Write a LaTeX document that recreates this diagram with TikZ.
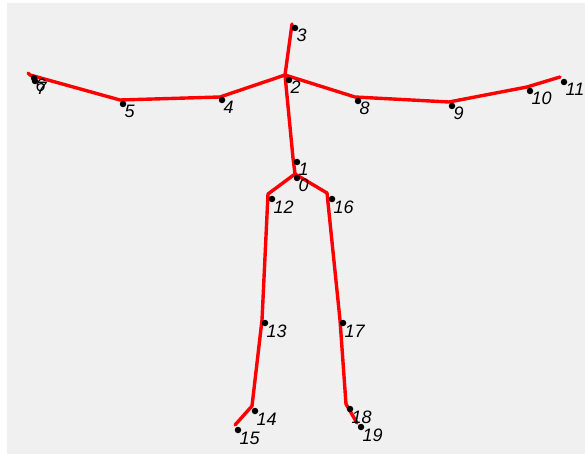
\documentclass[tikz,border=0pt]{standalone}
\usepackage{fontspec}
\setmainfont{Liberation Sans}
\usepackage{tikz}
\definecolor{PlotBg}{HTML}{F0F0F0}
\usetikzlibrary{calc}

\begin{document}
\begin{tikzpicture}[x=1pt,y=-1pt,
    font=\fontsize{18}{18}\selectfont\itshape,
    bone/.style={draw=red,line width=3.4pt,line cap=round,line join=round},
    joint/.style={shape=circle,fill=black,inner sep=0pt,minimum size=6.5pt},
    tag/.style={anchor=base west,inner sep=0pt,text=black}]

    % plot area
    \fill[white] (0,0) rectangle (585,454);
    \fill[PlotBg] (7,3) rectangle (585,454);

    % skeleton vertices
    \coordinate (s0) at (295,174);
    \coordinate (s1) at (293,158);
    \coordinate (s2) at (285,75);
    \coordinate (s3) at (292,24);
    \coordinate (s4) at (220,97);
    \coordinate (s5) at (120,100);
    \coordinate (s6) at (30,75);
    \coordinate (s7) at (28,73);
    \coordinate (s8) at (355,97);
    \coordinate (s9) at (449,102);
    \coordinate (s10) at (527,87);
    \coordinate (s11) at (560,77);
    \coordinate (s12) at (268,194);
    \coordinate (s13) at (262,320);
    \coordinate (s14) at (252,406);
    \coordinate (s15) at (235,425);
    \coordinate (s16) at (327,193);
    \coordinate (s17) at (340,320);
    \coordinate (s18) at (346,404);
    \coordinate (s19) at (357,423);

    % spine and head
    \path[bone] (s3) -- (s2) -- (s1) -- (s0);
    % arms
    \path[bone] (s2) -- (s4) -- (s5) -- (s6) -- (s7);
    \path[bone] (s2) -- (s8) -- (s9) -- (s10) -- (s11);
    % legs
    \path[bone] (s0) -- (s12) -- (s13) -- (s14) -- (s15);
    \path[bone] (s0) -- (s16) -- (s17) -- (s18) -- (s19);

    % joint markers with their indices
    \foreach \id/\px/\py in {0/297/178, 1/297/162, 2/289/80, 3/295/28,
        4/222/100, 5/123/104, 6/34/78, 7/35/81, 8/358/101, 9/452/106,
        10/530/91, 11/564/82, 12/272/199, 13/265/323, 14/255/411,
        15/238/430, 16/332/199, 17/343/323, 18/350/409, 19/361/427} {
      \node[name=j\id,joint] at (\px,\py) {};
      \node[name=t\id,tag] at ($(j\id)+(1.5,14)$) {\id};
    }

    \path [use as bounding box] (0,0) rectangle (585,454);
\end{tikzpicture}
\end{document}
